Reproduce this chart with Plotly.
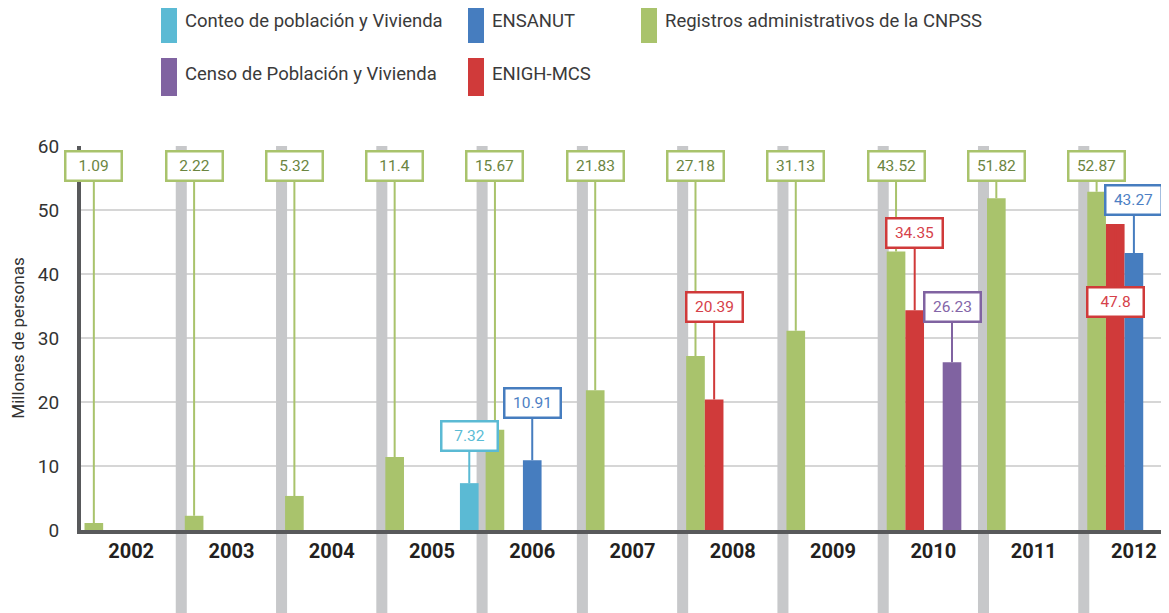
import plotly.graph_objects as go

# data (millions of people)
years = [2002, 2003, 2004, 2005, 2006, 2007, 2008, 2009, 2010, 2011, 2012]

registros = [1.09, 2.22, 5.32, 11.4, 15.67, 21.83, 27.18, 31.13, 43.52, 51.82, 52.87]

enigh_years = [2008, 2010, 2012]
enigh = [20.39, 34.35, 47.8]

ensanut_years = [2006, 2012]
ensanut = [10.91, 43.27]

censo_years = [2010]
censo = [26.23]

conteo_years = [2005]
conteo = [7.32]

# series in slot order inside each year group
series = [
    ("Registros administrativos de la CNPSS", years, registros),
    ("ENIGH-MCS", enigh_years, enigh),
    ("ENSANUT", ensanut_years, ensanut),
    ("Censo de Población y Vivienda", censo_years, censo),
    ("Conteo de población y Vivienda", conteo_years, conteo),
]

# look
Style = {
    "Registros administrativos de la CNPSS": {"bar": "#a9c36c", "text": "#6b8541"},
    "ENIGH-MCS": {"bar": "#d03a3a", "text": "#d6414a"},
    "ENSANUT": {"bar": "#467dbf", "text": "#4d7fc4"},
    "Censo de Población y Vivienda": {"bar": "#8063a1", "text": "#8466a8"},
    "Conteo de población y Vivienda": {"bar": "#5bbad4", "text": "#5bbcd5"},
}
FONT = "Roboto"
AXIS = "#58595b"
BAND = "#c7c8ca"
GRID = "#d6d6d6"

# where each value box sits (y in axis units)
label_y = {
    "Registros administrativos de la CNPSS": {},
    "ENIGH-MCS": {2008: 34.8, 2010: 46.4, 2012: 35.6},
    "ENSANUT": {2006: 19.8, 2012: 51.6},
    "Censo de Población y Vivienda": {2010: 34.8},
    "Conteo de población y Vivienda": {2005: 14.7},
}
GREEN_LABEL_Y = 56.9

# page body has an 8px margin, so the figure is shrunk to still fill the window
PAGE = 8
W, H = 1169 - PAGE, 613 - PAGE
M = dict(l=73, r=0, t=138, b=83)
X_RANGE = [2001.5, 2012.35]
slot = 0.186
start = -0.465

fig = go.Figure()
annotations = []
shapes = []

for i, (name, xs, ys) in enumerate(series):
    off = start + i * slot
    col = Style[name]
    fig.add_trace(go.Bar(
        x=xs, y=ys, name=name, width=slot, offset=off,
        marker=dict(color=col["bar"], line=dict(width=0)),
        showlegend=False, hoverinfo="x+y+name",
    ))
    for x, y in zip(xs, ys):
        cx = x + off + slot / 2
        ly = label_y[name].get(x, GREEN_LABEL_Y)
        annotations.append(dict(
            x=cx, y=y, xref="x", yref="y",
            ax=cx, ay=ly, axref="x", ayref="y",
            text=f"{y:g}", showarrow=True, arrowhead=0, arrowwidth=2,
            arrowcolor=col["bar"], standoff=0, startstandoff=0,
            bgcolor="white", bordercolor=col["bar"], borderwidth=2.5,
            borderpad=2, width=50, height=23,
            font=dict(family=FONT, size=15.5, color=col["text"]),
        ))

# grey separators between years, running below the axis too
plot_w = W - M["l"] - M["r"]
plot_h = H - M["t"] - M["b"]
for yr in years[:-1]:
    b = yr + 0.5
    shapes.append(dict(type="rect", xref="x", yref="y", x0=b - 0.055, x1=b + 0.055,
                       y0=0, y1=60, fillcolor=BAND, line=dict(width=0), layer="between"))
    shapes.append(dict(type="rect", xref="x", yref="paper", x0=b - 0.055, x1=b + 0.055,
                       y0=-M["b"] / plot_h - 0.01, y1=0,
                       fillcolor=BAND, line=dict(width=0), layer="below"))


# screen pixel -> paper coords
def px(xp):
    return (xp - PAGE - M["l"]) / plot_w


def py(yp):
    return (H - M["b"] - (yp - PAGE)) / plot_h


# legend drawn by hand (tall colour swatches)
legend_items = [
    ("Conteo de población y Vivienda", 161, 5),
    ("ENSANUT", 468, 5),
    ("Registros administrativos de la CNPSS", 641, 5),
    ("Censo de Población y Vivienda", 161, 58),
    ("ENIGH-MCS", 468, 58),
]
for name, lx, ly in legend_items:
    shapes.append(dict(type="rect", xref="paper", yref="paper",
                       x0=px(lx), x1=px(lx + 16), y0=py(ly + 38), y1=py(ly),
                       fillcolor=Style[name]["bar"], line=dict(width=0)))
    annotations.append(dict(x=px(lx + 22), y=py(ly + 16), xref="paper", yref="paper",
                            xanchor="left", yanchor="middle", showarrow=False, text=name,
                            font=dict(family=FONT, size=18.5, color="#3a3a3a")))

fig.update_layout(
    width=W, height=H, margin=M,
    paper_bgcolor="white", plot_bgcolor="white",
    font=dict(family=FONT, color="#333333"),
    barmode="overlay",
    xaxis=dict(
        range=X_RANGE, tickvals=years, ticktext=[str(y) for y in years],
        showgrid=False, zeroline=False, showline=True, linewidth=4, linecolor=AXIS,
        ticks="", ticklabelstandoff=0,
        tickfont=dict(family=FONT, size=20, color="#231f20", weight="bold"),
    ),
    yaxis=dict(
        range=[0, 60], dtick=10, showgrid=True, gridcolor=GRID, gridwidth=2,
        zeroline=False, showline=True, linewidth=4, linecolor=AXIS, ticks="",
        ticklabelstandoff=14,
        tickfont=dict(family=FONT, size=19, color="#333333"),
        title=dict(text="Millones de personas", standoff=12,
                   font=dict(family=FONT, size=17, color="#333333")),
    ),
    annotations=annotations,
    shapes=shapes,
)

fig.write_html("out.html")
